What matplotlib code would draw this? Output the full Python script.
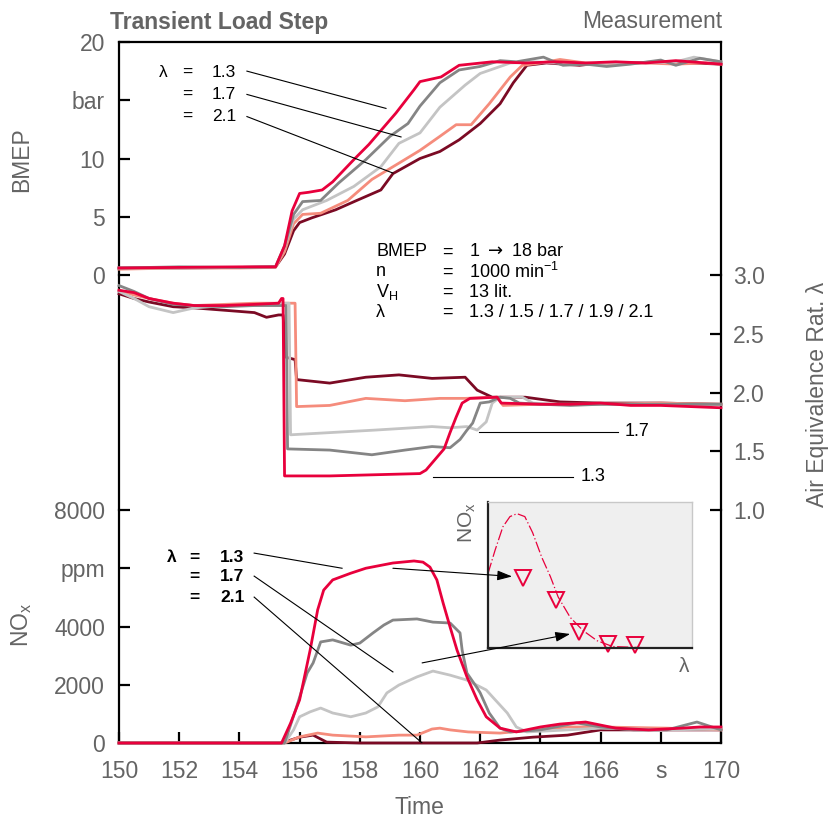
import matplotlib
matplotlib.use("Agg")
import matplotlib.pyplot as plt
import numpy as np

plt.rcParams['font.family'] = ['Liberation Sans', 'DejaVu Sans']
plt.rcParams['mathtext.fontset'] = 'custom'
plt.rcParams['mathtext.rm'] = 'Liberation Sans'
plt.rcParams['mathtext.it'] = 'Liberation Sans:italic'
plt.rcParams['mathtext.bf'] = 'Liberation Sans:bold'

# ---------------- data ----------------
lambdas = ["1.3", "1.5", "1.7", "1.9", "2.1"]
colors = ["#E8003C", "#858585", "#C4C4C4", "#F58C7C", "#7B0A24"]

# BMEP [bar]
t_b_13 = [150, 152, 154, 155.2, 155.5, 155.75, 156.0, 156.3, 156.75, 157.1, 157.8, 158.3, 158.7, 159.2, 159.8, 160.0, 160.7, 161.3, 162.4, 163.5, 164.5, 165.5, 166.5, 167.5, 168.5, 169.5, 170]
b_13 = [0.6, 0.65, 0.7, 0.7, 2.5, 5.5, 7.0, 7.1, 7.3, 8.0, 9.9, 11.2, 12.4, 13.9, 15.9, 16.6, 17.0, 18.0, 18.3, 18.2, 18.3, 18.2, 18.3, 18.2, 18.4, 18.2, 18.1]
t_b_15 = [150, 152, 154, 155.2, 155.5, 155.8, 156.1, 156.7, 157.3, 158.2, 159.0, 159.6, 160.0, 160.66, 161.3, 162.0, 162.66, 163.2, 164.1, 164.75, 165.5, 166.2, 167.0, 168.0, 168.5, 169.3, 170]
b_15 = [0.6, 0.7, 0.65, 0.7, 2.5, 5.2, 6.3, 6.4, 7.9, 9.9, 11.9, 13.0, 14.5, 16.5, 17.6, 17.9, 18.4, 18.3, 18.7, 18.0, 18.1, 17.9, 18.1, 18.45, 18.0, 18.6, 18.3]
t_b_17 = [150, 152, 154, 155.2, 155.5, 155.8, 156.1, 156.9, 157.8, 158.7, 159.3, 160.0, 160.66, 161.5, 162.0, 163.0, 163.8, 164.5, 165.5, 166.5, 167.5, 168.5, 169.1, 170]
b_17 = [0.6, 0.6, 0.65, 0.7, 2.4, 4.8, 5.6, 6.4, 7.6, 9.3, 11.3, 12.2, 14.4, 16.3, 17.3, 18.2, 18.3, 18.2, 18.1, 18.2, 18.2, 18.3, 18.7, 18.3]
t_b_19 = [150, 152, 154, 155.2, 155.5, 155.8, 156.1, 156.7, 157.6, 158.4, 159.3, 160.0, 160.66, 161.2, 161.7, 162.3, 163.0, 163.4, 164.0, 164.65, 165.5, 166.5, 167.5, 168.5, 169.5, 170]
b_19 = [0.5, 0.6, 0.6, 0.65, 2.0, 4.4, 5.2, 5.3, 6.4, 8.2, 9.6, 10.7, 11.9, 12.9, 12.9, 14.7, 17.0, 18.0, 18.2, 18.5, 18.2, 18.1, 18.2, 18.1, 18.2, 18.1]
t_b_21 = [150, 152, 154, 155.2, 155.5, 155.8, 156.0, 156.4, 157.2, 157.9, 158.7, 159.1, 160.0, 160.66, 161.3, 162.0, 162.66, 163.1, 163.55, 164.2, 165.3, 166.0, 167.0, 168.0, 169.0, 170]
b_21 = [0.6, 0.6, 0.65, 0.7, 1.8, 3.8, 4.5, 4.9, 5.6, 6.4, 7.3, 8.7, 10.0, 10.6, 11.6, 13.0, 14.7, 16.5, 18.0, 18.2, 18.0, 18.2, 18.2, 18.3, 18.2, 18.1]

# Air equivalence ratio lambda
t_l_13 = [150, 150.5, 151, 151.8, 152.5, 153.5, 154.5, 155.3, 155.4, 155.45, 155.5, 157, 158.5, 160.0, 160.2, 160.4, 160.6, 160.8, 161.0, 161.2, 161.4, 161.66, 162.56, 162.7, 164, 165, 166, 167, 168, 169, 170]
l_13 = [2.87, 2.85, 2.80, 2.76, 2.74, 2.74, 2.75, 2.76, 2.80, 2.80, 1.29, 1.29, 1.30, 1.31, 1.34, 1.40, 1.46, 1.52, 1.66, 1.79, 1.91, 1.95, 1.96, 1.91, 1.90, 1.90, 1.91, 1.89, 1.89, 1.88, 1.87]
t_l_15 = [150, 150.5, 151, 151.8, 152.5, 153.5, 154.5, 155.3, 155.55, 155.6, 157, 158.4, 159.5, 160.4, 161.0, 161.33, 161.56, 161.75, 162.0, 162.3, 162.66, 163.0, 163.3, 164, 165, 166, 167, 168, 169, 170]
l_15 = [2.91, 2.86, 2.80, 2.75, 2.74, 2.73, 2.74, 2.74, 2.74, 1.52, 1.51, 1.47, 1.51, 1.54, 1.53, 1.60, 1.68, 1.74, 1.91, 1.92, 1.96, 1.95, 1.91, 1.90, 1.89, 1.90, 1.90, 1.90, 1.90, 1.90]
t_l_17 = [150, 150.5, 151, 151.8, 152.5, 153.5, 154.5, 155.3, 155.65, 155.7, 157.1, 158.5, 160.4, 161.0, 161.56, 161.9, 162.2, 162.4, 162.66, 163.4, 163.75, 164.5, 166, 168, 170]
l_17 = [2.86, 2.80, 2.73, 2.68, 2.72, 2.74, 2.74, 2.76, 2.76, 1.64, 1.66, 1.68, 1.71, 1.70, 1.71, 1.68, 1.75, 1.91, 1.96, 1.96, 1.91, 1.90, 1.90, 1.90, 1.90]
t_l_19 = [150, 150.5, 151, 151.8, 152.5, 153.5, 154.5, 155.3, 155.85, 155.9, 157, 158.2, 159.5, 160.66, 161.5, 162.56, 162.76, 164, 166, 168, 170]
l_19 = [2.87, 2.83, 2.80, 2.76, 2.74, 2.75, 2.76, 2.76, 2.76, 1.88, 1.89, 1.95, 1.93, 1.95, 1.95, 1.96, 1.89, 1.90, 1.90, 1.91, 1.90]
t_l_21 = [150, 150.5, 151, 151.8, 152.5, 153.5, 154.5, 154.9, 155.3, 155.45, 155.55, 155.85, 155.9, 157.0, 158.2, 159.3, 160.4, 161.5, 161.9, 162.4, 163.5, 164.65, 166, 168, 170]
l_21 = [2.84, 2.80, 2.77, 2.73, 2.72, 2.70, 2.68, 2.64, 2.66, 2.66, 2.30, 2.28, 2.11, 2.08, 2.13, 2.15, 2.12, 2.13, 2.02, 1.96, 1.96, 1.92, 1.91, 1.91, 1.90]

# NOx [ppm]
t_n_13 = [150, 155.4, 155.7, 156.0, 156.35, 156.6, 156.8, 157.1, 157.7, 158.2, 159.1, 159.8, 160.1, 160.33, 160.56, 160.77, 161.0, 161.23, 161.56, 161.9, 162.2, 162.66, 163.2, 164.0, 164.65, 165.5, 166.5, 167.6, 168.7, 169.3, 170]
n_13 = [0, 0, 680, 1480, 3190, 4570, 5250, 5600, 5830, 6000, 6180, 6250, 6210, 6040, 5600, 4800, 3980, 3190, 2270, 1480, 900, 510, 380, 550, 650, 720, 510, 450, 510, 550, 550]
t_n_15 = [150, 155.5, 155.9, 156.25, 156.45, 156.7, 157.1, 157.7, 158.0, 158.44, 158.8, 159.1, 159.9, 160.43, 161.0, 161.33, 161.4, 161.56, 161.9, 162.0, 162.3, 162.66, 163.0, 164.0, 165.2, 166.0, 167.1, 168.2, 169.2, 169.7, 170]
n_15 = [0, 0, 1240, 2400, 2750, 3470, 3540, 3360, 3430, 3780, 4050, 4220, 4260, 4150, 4120, 3780, 3190, 2400, 1890, 1720, 1030, 510, 380, 450, 690, 550, 450, 450, 720, 550, 450]
t_n_17 = [150, 155.5, 155.8, 156.0, 156.35, 156.7, 157.1, 157.7, 158.2, 158.6, 158.9, 159.3, 159.9, 160.43, 161.0, 161.56, 162.2, 162.5, 162.9, 163.2, 163.55, 164.9, 166.0, 168.2, 170]
n_17 = [0, 0, 450, 900, 1070, 1200, 1030, 900, 1030, 1240, 1720, 1990, 2270, 2470, 2330, 2160, 1820, 1480, 1030, 550, 380, 450, 510, 450, 480]
t_n_19 = [150, 155.5, 156.0, 156.6, 157.1, 158.2, 159.3, 159.9, 160.4, 160.66, 161.0, 161.6, 162.66, 163.75, 164.9, 166.0, 168.2, 170]
n_19 = [0, 0, 210, 340, 270, 210, 270, 270, 480, 510, 450, 380, 340, 450, 550, 550, 510, 450]
t_n_21 = [150, 155.4, 156.0, 156.45, 156.9, 158.0, 160.0, 161.9, 162.66, 163.75, 164.9, 166.0, 167.1, 168.2, 170]
n_21 = [0, 0, 200, 270, 30, 0, 0, 0, 100, 200, 270, 450, 450, 450, 450]

# Inset: NOx vs lambda (relative)
inset_curve_l = [1.05, 1.10, 1.155, 1.205, 1.255, 1.31, 1.365, 1.43, 1.49, 1.545, 1.63, 1.72, 1.82, 1.93, 2.21]
inset_curve_n = [0.51, 0.67, 0.83, 0.90, 0.92, 0.90, 0.79, 0.62, 0.49, 0.35, 0.21, 0.12, 0.05, 0.01, 0.0]
inset_pts_l = [1.30, 1.53, 1.69, 1.90, 2.09]
inset_pts_n = [0.48, 0.33, 0.11, 0.025, 0.02]

t_bmep = [t_b_13, t_b_15, t_b_17, t_b_19, t_b_21]
bmep = [b_13, b_15, b_17, b_19, b_21]
t_lam = [t_l_13, t_l_15, t_l_17, t_l_19, t_l_21]
lam = [l_13, l_15, l_17, l_19, l_21]
t_nox = [t_n_13, t_n_15, t_n_17, t_n_19, t_n_21]
nox = [n_13, n_15, n_17, n_19, n_21]

xticks = [150, 152, 154, 156, 158, 160, 162, 164, 166, 168, 170]
xticklabels = ["150", "152", "154", "156", "158", "160", "162", "164", "166", "s", "170"]
bmep_ticks = [0, 5, 10, 15, 20]
bmep_ticklabels = ["0", "5", "10", "bar", "20"]
lam_ticks = [1.0, 1.5, 2.0, 2.5, 3.0]
lam_ticklabels = ["1.0", "1.5", "2.0", "2.5", "3.0"]
nox_ticks = [0, 2000, 4000, 6000, 8000]
nox_ticklabels = ["0", "2000", "4000", "ppm", "8000"]

# ---------------- layout ----------------
W, H = 829, 818
fig = plt.figure(figsize=(W / 100, H / 100), dpi=100)
L, R = 119, 721
TOP, Y1, Y2, BOT = 42, 275, 510, 743

def box(y_top, y_bot):
    return [L / W, 1 - y_bot / H, (R - L) / W, (y_bot - y_top) / H]

ax_b = fig.add_axes(box(TOP, Y1))
ax_l = fig.add_axes(box(Y1, Y2))
ax_n = fig.add_axes(box(Y2, BOT))

GRAY = "#646464"
LW_SP = 1.6
TICKFS = 16.5
LABFS = 16.5
for ax in (ax_b, ax_l, ax_n):
    ax.set_facecolor("none")
    ax.set_xlim(150, 170)
    for s in ax.spines.values():
        s.set_linewidth(LW_SP)
        s.set_color("black")
    ax.tick_params(direction="in", length=8, width=LW_SP, colors="black",
                   labelcolor=GRAY, labelsize=TICKFS)

ax_b.spines["bottom"].set_visible(False)
ax_l.spines["top"].set_visible(False)
ax_l.spines["bottom"].set_visible(False)
ax_n.spines["top"].set_visible(False)

ax_b.set_ylim(0, 20)
ax_b.set_yticks(bmep_ticks)
ax_b.set_yticklabels(bmep_ticklabels)
ax_b.tick_params(axis="y", pad=10)
ax_b.set_xticks([])

ax_l.set_ylim(1, 3)
ax_l.yaxis.tick_right()
ax_l.set_yticks(lam_ticks)
ax_l.set_yticklabels(lam_ticklabels)
ax_l.tick_params(axis="y", pad=8.5)
ax_l.set_xticks([])

ax_n.set_ylim(0, 8000)
ax_n.set_yticks(nox_ticks)
ax_n.set_yticklabels(nox_ticklabels)
ax_n.tick_params(axis="y", pad=10)
ax_n.set_xticks(xticks)
ax_n.set_xticklabels(xticklabels)
ax_n.tick_params(axis="x", pad=12)

LW = 2.0
order = [4, 3, 2, 1, 0]
for i in order:
    ax_b.plot(t_bmep[i], bmep[i], color=colors[i], lw=LW, clip_on=False, zorder=3 + (4 - i) * 0.1)
    ax_l.plot(t_lam[i], lam[i], color=colors[i], lw=LW, clip_on=False, zorder=3 + (4 - i) * 0.1)
    ax_n.plot(t_nox[i], nox[i], color=colors[i], lw=LW, clip_on=False, zorder=3 + (4 - i) * 0.1)

# ---------------- texts ----------------
fig.text(110 / W, 1 - 22 / H, "Transient Load Step", fontsize=16.5, fontweight="bold",
         color=GRAY, ha="left", va="center")
fig.text(722 / W, 1 - 22 / H, "Measurement", fontsize=16.5, color=GRAY, ha="right", va="center")
fig.text(22 / W, 1 - 160 / H, "BMEP", fontsize=LABFS, color=GRAY, rotation=90, ha="center", va="center")
fig.text(22 / W, 1 - 625 / H, "NO$_\\mathrm{x}$", fontsize=LABFS, color=GRAY, rotation=90, ha="center", va="center")
fig.text(419 / W, 1 - 807 / H, "Time", fontsize=LABFS, color=GRAY, ha="center", va="center")
fig.text(818 / W, 1 - 394 / H, "Air Equivalence Rat. λ", fontsize=LABFS, color=GRAY, rotation=90,
         ha="center", va="center")

# BMEP legend
LEGFS = 12.5
for k, (lab, yb) in enumerate(zip(["1.3", "1.7", "2.1"], [17.4, 15.5, 13.6])):
    if k == 0:
        ax_b.text(151.46, yb, "λ", fontsize=LEGFS, ha="center", va="center")
    ax_b.text(152.26, yb, "=", fontsize=LEGFS, ha="center", va="center")
    ax_b.text(153.09, yb, lab, fontsize=LEGFS, ha="left", va="center")
ax_b.plot([154.25, 158.87], [17.5, 14.3], color="black", lw=0.8, zorder=6)
ax_b.plot([154.25, 159.37], [15.5, 11.85], color="black", lw=0.8, zorder=6)
ax_b.plot([154.25, 159.1], [13.6, 8.75], color="black", lw=0.8, zorder=6)

# parameter block (placed in lambda-axes coordinates)
DFS = 13
rows = [("BMEP", "1 $\\rightarrow$ 18 bar"), ("n", "1000 min$^{-1}$"), ("V$_\\mathrm{H}$", "13 lit."),
        ("λ", "1.3 / 1.5 / 1.7 / 1.9 / 2.1")]
for k, ((a, b), yl) in enumerate(zip(rows, [3.196, 3.026, 2.855, 2.685])):
    ax_l.text(158.54, yl, a, fontsize=DFS, ha="left", va="center")
    ax_l.text(160.9, yl, "=", fontsize=DFS, ha="center", va="center")
    if k == 0:
        ax_l.text(161.63, yl, b, fontsize=DFS, ha="left", va="center", math_fontfamily="dejavusans")
    else:
        ax_l.text(161.63, yl, b, fontsize=DFS, ha="left", va="center")

# lambda labels
ax_l.plot([161.96, 166.58], [1.664, 1.664], color="black", lw=0.8)
ax_l.text(166.81, 1.664, "1.7", fontsize=13, ha="left", va="center")
ax_l.plot([160.43, 165.08], [1.281, 1.281], color="black", lw=0.8)
ax_l.text(165.32, 1.281, "1.3", fontsize=13, ha="left", va="center")

# NOx legend
for k, (lab, yn) in enumerate(zip(["1.3", "1.7", "2.1"], [6385, 5700, 4980])):
    if k == 0:
        ax_n.text(151.76, yn, "λ", fontsize=LEGFS, ha="center", va="center", fontweight="bold")
    ax_n.text(152.52, yn, "=", fontsize=LEGFS, ha="center", va="center", fontweight="bold")
    ax_n.text(153.36, yn, lab, fontsize=LEGFS, ha="left", va="center", fontweight="bold")
ax_n.plot([154.49, 157.41], [6520, 6000], color="black", lw=0.8, zorder=6)
ax_n.plot([154.49, 159.1], [5730, 2440], color="black", lw=0.8, zorder=6)
ax_n.plot([154.49, 160.07], [5010, 0], color="black", lw=0.8, zorder=6)

# ---------------- inset ----------------
ax_i = fig.add_axes([488 / W, 1 - 648 / H, (692 - 488) / W, (648 - 502) / H])
ax_i.set_facecolor("#EFEFEF")
ax_i.set_xlim(1.05, 2.49)
ax_i.set_ylim(0, 1)
ax_i.set_xticks([])
ax_i.set_yticks([])
for s in ("top", "right"):
    ax_i.spines[s].set_color("#C8C8C8")
    ax_i.spines[s].set_linewidth(1.0)
for s in ("left", "bottom"):
    ax_i.spines[s].set_color("#222222")
    ax_i.spines[s].set_linewidth(1.6)
ax_i.plot(inset_curve_l, inset_curve_n, color=colors[0], lw=0.9,
          linestyle=(0, (9, 2, 1, 2)), clip_on=False)
ax_i.plot(inset_pts_l, inset_pts_n, linestyle="none", marker="v", markersize=11,
          markerfacecolor="none", markeredgecolor=colors[0], markeredgewidth=1.4, clip_on=False)
fig.text(467 / W, 1 - 523 / H, "NO$_\\mathrm{x}$", fontsize=15, color=GRAY, rotation=90,
         ha="center", va="center")
fig.text(684 / W, 1 - 667 / H, "λ", fontsize=15, color=GRAY, ha="center", va="center")

# arrows from NOx curves into inset
ax_i.annotate("", xy=(1.22, 0.49), xycoords="data", xytext=(159.1, 6000),
              textcoords=ax_n.transData,
              arrowprops=dict(arrowstyle="-|>,head_length=0.9,head_width=0.3", color="black",
                              lw=0.8, shrinkA=0, shrinkB=0), annotation_clip=False)
ax_i.annotate("", xy=(1.63, 0.096), xycoords="data", xytext=(160.07, 2750),
              textcoords=ax_n.transData,
              arrowprops=dict(arrowstyle="-|>,head_length=0.9,head_width=0.3", color="black",
                              lw=0.8, shrinkA=0, shrinkB=0), annotation_clip=False)

fig.savefig("out.png", dpi=100)
